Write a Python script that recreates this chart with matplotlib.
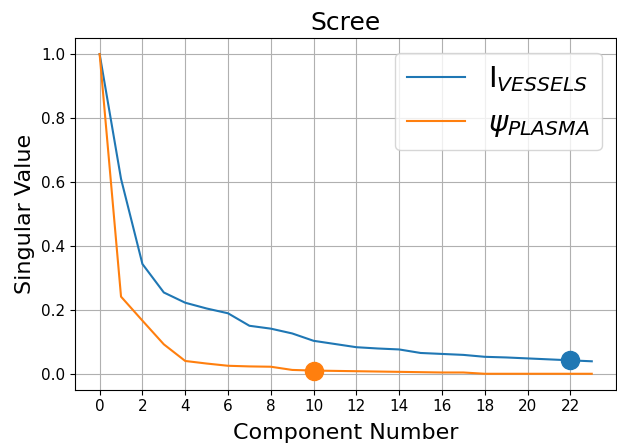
import numpy as np
import matplotlib.pyplot as plt

components = np.arange(24)
vessels = [1.0, 0.61, 0.344, 0.255, 0.223, 0.205, 0.19, 0.151, 0.142, 0.127,
           0.104, 0.094, 0.084, 0.080, 0.077, 0.066, 0.063, 0.060, 0.054, 0.052,
           0.049, 0.046, 0.043, 0.040]
plasma = [1.0, 0.242, 0.167, 0.093, 0.041, 0.033, 0.026, 0.024, 0.023, 0.013,
          0.011, 0.010, 0.009, 0.008, 0.007, 0.006, 0.005, 0.005, 0.001, 0.001,
          0.001, 0.001, 0.001, 0.001]
vessels_cut = 22
plasma_cut = 10

fig, ax = plt.subplots(figsize=(6.17, 4.48), dpi=100)
fig.subplots_adjust(left=0.1216, right=0.999, top=0.915, bottom=0.13)

ax.plot(components, vessels, color='C0', label='I$_{VESSELS}$')
ax.plot(components, plasma, color='C1', label=r'$\psi_{PLASMA}$')
ax.plot(vessels_cut, vessels[vessels_cut], 'o', color='C0', markersize=13)
ax.plot(plasma_cut, plasma[plasma_cut], 'o', color='C1', markersize=13)

ax.set_xticks(np.arange(0, 24, 2))
ax.tick_params(labelsize=11)
ax.grid(True)
ax.set_title('Scree', fontsize=18)
ax.set_xlabel('Component Number', fontsize=16, labelpad=6)
ax.set_ylabel('Singular Value', fontsize=16)
ax.legend(fontsize=21)

fig.savefig('out.png')
